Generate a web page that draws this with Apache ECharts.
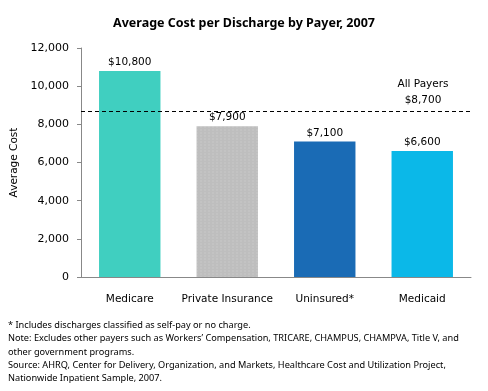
<!DOCTYPE html>
<html><head><meta charset="utf-8">
<script src="https://cdn.jsdelivr.net/npm/echarts@6/dist/echarts.min.js"></script>
<style>html,body{margin:0;padding:0;background:#fff}#c{width:488px;height:391px}</style>
</head><body><div id="c"></div>
<script>
var categories = ['Medicare', 'Private Insurance', 'Uninsured*', 'Medicaid'];
var values = [10800, 7900, 7100, 6600];
var barColors = ['#40CFC0', '#BEBEBE', '#1A6BB5', '#0BB8E8'];
var allPayers = 8700;
var yTicks = [0, 2000, 4000, 6000, 8000, 10000, 12000];
var footnotes = [
  '* Includes discharges classified as self-pay or no charge.',
  'Note: Excludes other payers such as Workers\u2019 Compensation, TRICARE, CHAMPUS, CHAMPVA, Title V, and',
  'other government programs.',
  'Source: AHRQ, Center for Delivery, Organization, and Markets, Healthcare Cost and Utilization Project,',
  'Nationwide Inpatient Sample, 2007.'
];
var fam = 'DejaVu Sans';
var chart = echarts.init(document.getElementById('c'));
var graphics = [];
footnotes.forEach(function (t, i) {
  graphics.push({type: 'text', left: 8, top: 321 + i * 13.2,
    style: {text: t, font: '9.2px "Noto Sans"', fill: '#000'}});
});
graphics.push({type: 'text', x: 423, y: 79,
  style: {text: 'All Payers', font: '10.5px "DejaVu Sans"', fill: '#000', textAlign: 'center'}});
graphics.push({type: 'text', x: 423, y: 95,
  style: {text: '$' + allPayers.toLocaleString('en-US'), font: '10.5px "DejaVu Sans"', fill: '#000', textAlign: 'center'}});
chart.setOption({
  animation: false,
  title: {text: 'Average Cost per Discharge by Payer, 2007', left: 'center', top: 12,
    textStyle: {fontFamily: 'Noto Sans', fontWeight: 'bold', fontSize: 12.5, color: '#000'}},
  grid: {left: 81, right: 17, top: 48, bottom: 114},
  xAxis: {type: 'category', data: categories,
    axisLine: {lineStyle: {color: '#888'}}, axisTick: {show: false},
    axisLabel: {interval: 0, color: '#000', fontFamily: fam, fontSize: 10.5, margin: 17}},
  yAxis: {type: 'value', min: yTicks[0], max: yTicks[yTicks.length - 1], interval: 2000,
    name: 'Average Cost', nameLocation: 'middle', nameGap: 49,
    nameTextStyle: {color: '#000', fontFamily: fam, fontSize: 10.5},
    axisLine: {show: true, lineStyle: {color: '#888'}},
    axisTick: {show: true, length: 4, lineStyle: {color: '#888'}},
    splitLine: {show: false},
    axisLabel: {color: '#000', fontFamily: fam, fontSize: 11, margin: 12,
      formatter: function (v) { return v.toLocaleString('en-US'); }}},
  series: [{type: 'bar', barWidth: '63%',
    data: values.map(function (v, i) {
      var it = {value: v, itemStyle: {color: barColors[i]}};
      if (i === 1) {
        it.itemStyle.decal = {symbol: 'rect', symbolSize: 0.5, color: 'rgba(255,255,255,0.35)',
          dashArrayX: [[2, 2]], dashArrayY: [2, 1], rotation: 0};
      }
      return it;
    }),
    label: {show: true, position: 'top', distance: 3, color: '#000', fontFamily: fam, fontSize: 10.5,
      formatter: function (p) { return '$' + p.value.toLocaleString('en-US'); }},
    markLine: {symbol: 'none', silent: true,
      lineStyle: {type: [4, 3], color: '#000', width: 1},
      label: {show: false},
      data: [{yAxis: allPayers}]}
  }],
  graphic: graphics
});
</script></body></html>
